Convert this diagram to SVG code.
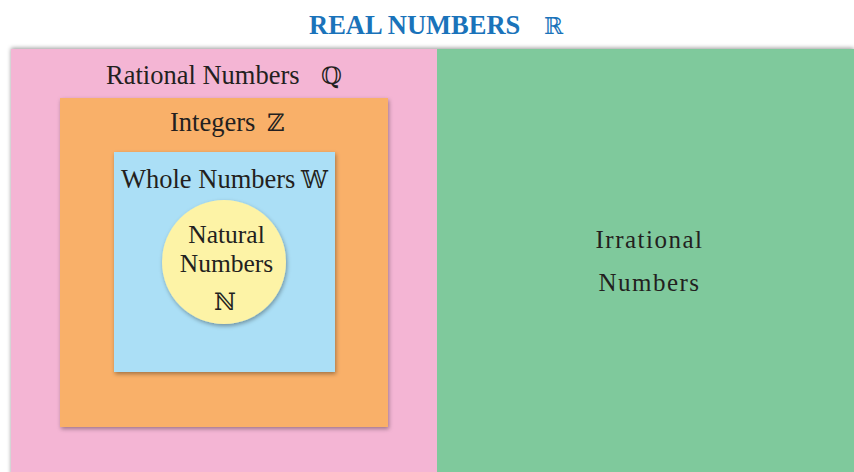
<svg xmlns="http://www.w3.org/2000/svg" width="854" height="472" viewBox="0 0 854 472">
<defs>
<filter id="sh" x="-10%" y="-10%" width="125%" height="125%">
<feDropShadow dx="1" dy="2" stdDeviation="2" flood-color="#000" flood-opacity="0.35"/>
</filter>
<filter id="sh2" x="-5%" y="-5%" width="110%" height="110%">
<feDropShadow dx="0" dy="-1" stdDeviation="2" flood-color="#000" flood-opacity="0.4"/>
</filter>
<style>
text{font-family:"Liberation Serif","Times New Roman",serif;fill:#231f20;}
.ds{font-family:"DejaVu Serif","Liberation Serif",serif;}
.lbl{font-size:26.5px;}
.sym{font-size:24px;}
</style>
</defs>
<rect width="854" height="472" fill="#ffffff"/>
<g id="title">
<text x="309" y="34" style="font-size:26.5px;font-weight:bold;fill:#1a73ba">REAL NUMBERS</text>
<text x="544" y="34" class="ds" style="font-size:23px;fill:#1a73ba">ℝ</text>
</g>
<g id="real" filter="url(#sh2)">
<rect x="11" y="49" width="426" height="430" fill="#f4b5d4"/>
<rect x="437" y="49" width="417" height="430" fill="#7fc99c"/>
</g>
<g id="rational">
<text x="106" y="84" class="lbl">Rational Numbers</text>
<text x="321" y="84" class="ds sym">ℚ</text>
</g>
<g id="integers">
<rect x="60" y="98" width="328" height="329" fill="#f9b069" filter="url(#sh)"/>
<text x="170" y="131" class="lbl">Integers</text>
<text x="267" y="131" class="ds sym">ℤ</text>
</g>
<g id="whole">
<rect x="114" y="152" width="221" height="220" fill="#abdff6" filter="url(#sh)"/>
<text x="121" y="188" class="lbl">Whole Numbers</text>
<text x="301" y="188" class="ds sym">𝕎</text>
</g>
<g id="natural">
<circle cx="224" cy="262" r="62" fill="#fdf3a6" filter="url(#sh)"/>
<text x="226.5" y="243" style="font-size:25.5px" text-anchor="middle">Natural</text>
<text x="226.5" y="272" style="font-size:25.5px" text-anchor="middle">Numbers</text>
<text x="225" y="310" class="ds sym" text-anchor="middle">ℕ</text>
</g>
<g id="irrational">
<text x="649.5" y="248" style="font-size:25px" text-anchor="middle" letter-spacing="1.5">Irrational</text>
<text x="649.5" y="291" style="font-size:25px" text-anchor="middle" letter-spacing="1.5">Numbers</text>
</g>
<g id="connectors"/>
</svg>
